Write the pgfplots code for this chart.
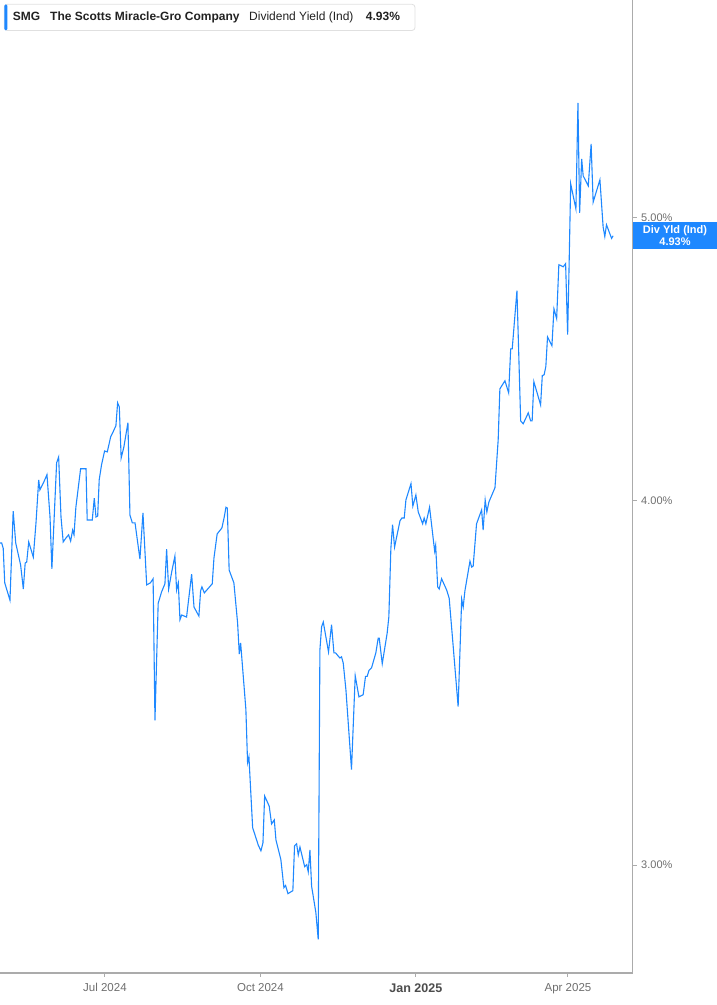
\documentclass[border=0pt]{standalone}
\usepackage{pgfplots}
\pgfplotsset{compat=1.18}
\usepackage{fontspec}
\setmainfont{Liberation Sans}

\definecolor{lineblue}{HTML}{1E88FF}
\definecolor{axisgray}{HTML}{ABABAB}
\definecolor{ticktext}{HTML}{6E6E6E}
\definecolor{darktext}{HTML}{222222}

% x = days since 1 Jul 2024, y = dividend yield in percent
\begin{document}
\begin{tikzpicture}
\useasboundingbox (0pt,0pt) rectangle (717pt,1005pt);
\begin{axis}[
  at={(0pt,32pt)}, anchor=south west,
  width=632.7pt, height=973pt, scale only axis,
  ymode=log,
  xmin=-62.1, xmax=312.3,
  ymin=2.755, ymax=5.939,
  axis x line*=bottom, axis y line*=right,
  axis line style={axisgray, line width=1.4pt},
  tick align=outside,
  major tick length=4pt,
  tick style={axisgray, line width=1pt},
  xtick={0,92,184,274},
  xticklabels={Jul 2024, Oct 2024, {\fontsize{12.5}{13}\selectfont\bfseries\color{black!70}Jan 2025}, Apr 2025},
  xticklabel style={font=\fontsize{11.5}{12}\selectfont, text=ticktext, yshift=-3pt},
  ytick={3,4,5},
  yticklabels={3.00\%, 4.00\%, 5.00\%},
  yticklabel style={font=\fontsize{11}{12}\selectfont, text=ticktext, xshift=1pt},
  clip=false,
]
\addplot[lineblue, line width=1.1pt, mark=none] coordinates {
(-62.1,3.869)(-61.1,3.869)(-60.2,3.853)(-59.3,3.749)(-56.2,3.698)(-54.3,3.968)
(-52.8,3.869)(-49.9,3.802)(-48.3,3.731)(-47.2,3.808)(-46.3,3.811)(-45.1,3.872)
(-42.4,3.826)(-40.8,3.931)(-39.2,4.066)(-38.5,4.034)(-36.1,4.060)(-34.3,4.083)
(-32.5,3.949)(-31.4,3.790)(-28.6,4.121)(-27.4,4.140)(-26.0,3.949)(-24.7,3.872)
(-23.1,3.884)(-21.5,3.894)(-20.3,3.875)(-19.1,3.909)(-18.3,3.894)(-17.2,3.980)
(-14.4,4.102)(-11.2,4.102)(-10.5,3.940)(-7.5,3.940)(-6.3,4.008)(-5.3,3.949)
(-4.3,3.952)(-3.4,4.066)(-2.0,4.115)(-0.2,4.160)(1.4,4.157)(3.4,4.207)
(4.9,4.224)(6.5,4.244)(7.5,4.321)(8.5,4.307)(9.6,4.137)(11.2,4.173)
(13.6,4.254)(14.8,3.955)(16.2,3.931)(17.8,3.931)(20.7,3.820)(22.5,3.962)
(24.7,3.743)(26.9,3.749)(28.5,3.761)(29.6,3.363)(31.5,3.689)(33.5,3.722)
(35.5,3.746)(36.5,3.850)(37.7,3.731)(39.5,3.781)(41.4,3.829)(42.4,3.728)
(43.4,3.749)(44.4,3.641)(45.4,3.655)(48.3,3.649)(51.3,3.775)(52.7,3.678)
(55.6,3.652)(56.6,3.725)(57.4,3.737)(58.8,3.719)(63.5,3.746)(64.5,3.823)
(66.4,3.897)(69.2,3.915)(70.6,3.949)(71.6,3.980)(72.4,3.977)(73.5,3.787)
(76.3,3.749)(78.5,3.632)(79.5,3.544)(80.3,3.575)(83.4,3.392)(84.4,3.253)
(85.2,3.268)(87.4,3.090)(90.7,3.048)(92.3,3.034)(93.5,3.053)(94.5,3.168)
(97.2,3.143)(98.6,3.099)(100.2,3.109)(101.2,3.060)(104.1,3.013)(105.9,2.947)
(106.9,2.952)(108.3,2.933)(111.2,2.940)(112.2,3.046)(113.4,3.051)(114.4,3.024)
(115.4,3.043)(118.2,2.996)(119.4,3.001)(120.3,2.984)(121.3,3.036)(122.3,2.950)
(124.8,2.890)(126.2,2.829)(127.2,3.555)(128.2,3.621)(129.2,3.635)(132.3,3.550)
(134.1,3.627)(135.5,3.547)(136.5,3.547)(139.0,3.533)(140.0,3.536)(141.0,3.519)
(142.6,3.445)(145.9,3.235)(148.1,3.484)(150.3,3.426)(152.8,3.432)(154.2,3.482)
(155.2,3.482)(156.2,3.498)(157.8,3.506)(160.3,3.547)(161.7,3.589)(162.3,3.589)
(164.1,3.517)(167.0,3.603)(168.0,3.649)(169.2,3.853)(170.2,3.925)(171.4,3.856)
(172.6,3.887)(174.6,3.937)(175.7,3.946)(177.1,3.946)(178.1,4.002)(181.1,4.054)
(182.2,3.983)(184.0,4.018)(185.4,3.965)(188.0,3.928)(188.9,3.946)(189.9,3.928)
(192.1,3.980)(195.1,3.844)(195.7,3.862)(196.9,3.737)(197.8,3.731)(199.2,3.761)
(202.2,3.728)(203.7,3.704)(206.1,3.564)(209.0,3.400)(211.1,3.701)(212.0,3.678)
(213.0,3.725)(216.0,3.814)(217.0,3.796)(217.9,3.799)(219.9,3.928)(222.9,3.971)
(223.8,3.909)(225.0,4.002)(226.0,3.965)(227.2,3.996)(230.8,4.041)(232.7,4.197)
(233.7,4.369)(236.7,4.397)(238.9,4.355)(240.1,4.509)(241.0,4.509)(243.8,4.721)
(246.0,4.260)(247.5,4.250)(250.5,4.287)(251.9,4.260)(252.8,4.260)(253.8,4.394)
(257.8,4.314)(258.8,4.415)(259.9,4.418)(260.9,4.447)(261.9,4.552)(264.5,4.520)
(265.7,4.654)(267.3,4.618)(268.6,4.819)(271.2,4.811)(272.6,4.823)(273.8,4.560)
(274.6,4.796)(275.6,5.137)(278.7,5.036)(279.9,5.475)(280.9,5.020)(282.1,5.239)
(283.0,5.169)(286.0,5.128)(287.7,5.301)(288.9,5.063)(292.9,5.153)(294.8,4.965)
(295.8,4.927)(296.8,4.973)(299.8,4.920)(300.7,4.930)
};
\end{axis}
% current-value box on the right axis
\fill[lineblue] (633pt,755.7pt) rectangle (717pt,783.3pt);
\node[text=white, font=\fontsize{11}{12.5}\selectfont\bfseries, align=center, inner sep=0pt]
  at (675pt,769.5pt) {Div Yld (Ind)\\4.93\%};
% header box
\draw[black!12, fill=white, rounded corners=3pt, line width=0.8pt] (4.3pt,974.5pt) rectangle (415pt,1000.7pt);
\fill[lineblue, rounded corners=1.5pt] (4.3pt,974.5pt) rectangle (7.3pt,1000.7pt);
\begin{scope}[every node/.style={anchor=base west, inner sep=0pt, text=darktext}]
\node[font=\fontsize{12}{12}\selectfont\bfseries] at (12.7pt,984.5pt) {SMG};
\node[font=\fontsize{12}{12}\selectfont\bfseries] at (50pt,984.5pt) {The Scotts Miracle-Gro Company};
\node[font=\fontsize{12}{12}\selectfont] at (249pt,984.5pt) {Dividend Yield (Ind)};
\node[font=\fontsize{12}{12}\selectfont\bfseries] at (365.7pt,984.5pt) {4.93\%};
\end{scope}
\end{tikzpicture}
\end{document}
